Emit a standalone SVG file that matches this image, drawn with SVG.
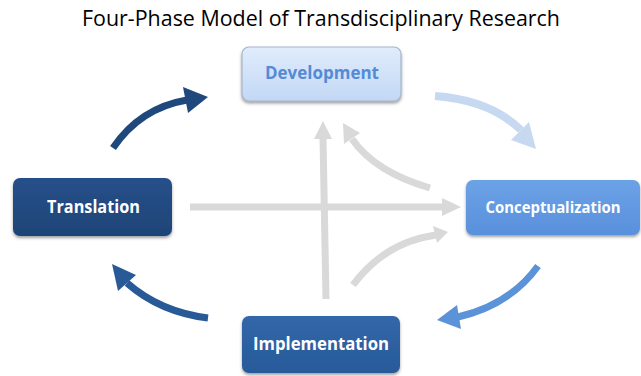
<svg xmlns="http://www.w3.org/2000/svg" width="641" height="376" viewBox="0 0 641 376">
  <style>
    .title { font-family: "Open Sans", "Liberation Sans", sans-serif; font-size: 21px; fill: #000; }
    .lbl { font-family: "Open Sans", "Liberation Sans", sans-serif; font-size: 18px; font-weight: bold; text-anchor: middle; }
    .gray { fill: none; stroke: #d9d9d9; stroke-width: 7; }
    .grayhead { fill: #d9d9d9; }
  </style>
  <defs>
    <linearGradient id="gDev" x1="0" y1="0" x2="0" y2="1">
      <stop offset="0" stop-color="#e0ecfc"/>
      <stop offset="1" stop-color="#c3d8f5"/>
    </linearGradient>
    <linearGradient id="gTra" x1="0" y1="0" x2="0" y2="1">
      <stop offset="0" stop-color="#27508a"/>
      <stop offset="1" stop-color="#1e4477"/>
    </linearGradient>
    <linearGradient id="gCon" x1="0" y1="0" x2="0" y2="1">
      <stop offset="0" stop-color="#6ca2e6"/>
      <stop offset="1" stop-color="#5990dc"/>
    </linearGradient>
    <linearGradient id="gImp" x1="0" y1="0" x2="0" y2="1">
      <stop offset="0" stop-color="#3267aa"/>
      <stop offset="1" stop-color="#285a99"/>
    </linearGradient>
    <filter id="sh" x="-10%" y="-10%" width="120%" height="130%">
      <feDropShadow dx="0" dy="2" stdDeviation="1.5" flood-color="#404040" flood-opacity="0.5"/>
    </filter>
  </defs>

  <text class="title" x="321" y="26" text-anchor="middle" textLength="478" lengthAdjust="spacingAndGlyphs">Four-Phase Model of Transdisciplinary Research</text>

  <g id="connectors">
    <path class="gray" d="M190,207 L445,207"/>
    <polygon class="grayhead" points="442,198 461,207 442,216"/>
    <path class="gray" d="M326,299 L323,137"/>
    <polygon class="grayhead" points="314,139 323,121 332,139"/>
    <path class="gray" d="M430,188 Q375,172 352,139"/>
    <polygon class="grayhead" points="343,123 360,133 344,144"/>
    <path class="gray" d="M353,285 Q385,242 436,235"/>
    <polygon class="grayhead" points="448,232 433,226 437,243"/>

    <path d="M113,148 Q140,108 187,100" fill="none" stroke="#1f497d" stroke-width="7"/>
    <polygon points="183,87 208,97 188,113" fill="#1f497d"/>
    <path d="M435,96 Q490,100 521,130" fill="none" stroke="#c6d9f1" stroke-width="8"/>
    <polygon points="529,122 536,149 511,140" fill="#c6d9f1"/>
    <path d="M538,266 Q510,305 458,317" fill="none" stroke="#5b93d8" stroke-width="7"/>
    <polygon points="457,305 437,320 461,329" fill="#5b93d8"/>
    <path d="M208,318 Q160,312 127,283" fill="none" stroke="#285a98" stroke-width="7"/>
    <polygon points="112,264 136,275 118,291" fill="#285a98"/>
  </g>

  <g id="development">
    <rect x="242" y="47" width="159" height="54" rx="7" fill="url(#gDev)" stroke="#a3b6cd" stroke-width="1.2" filter="url(#sh)"/>
    <text class="lbl" x="322" y="79" fill="#548bd5" textLength="114" lengthAdjust="spacingAndGlyphs">Development</text>
  </g>
  <g id="translation">
    <rect x="13" y="178" width="159" height="58" rx="7" fill="url(#gTra)" filter="url(#sh)"/>
    <text class="lbl" x="93.5" y="213" fill="#ffffff" textLength="93" lengthAdjust="spacingAndGlyphs">Translation</text>
  </g>
  <g id="conceptualization">
    <rect x="466" y="180" width="174" height="55" rx="7" fill="url(#gCon)" filter="url(#sh)"/>
    <text class="lbl" x="553" y="213" fill="#ffffff" style="font-size:16.5px" textLength="135" lengthAdjust="spacingAndGlyphs">Conceptualization</text>
  </g>
  <g id="implementation">
    <rect x="242" y="316" width="158" height="57" rx="7" fill="url(#gImp)" filter="url(#sh)"/>
    <text class="lbl" x="321" y="350" fill="#ffffff" textLength="136" lengthAdjust="spacingAndGlyphs">Implementation</text>
  </g>
</svg>
